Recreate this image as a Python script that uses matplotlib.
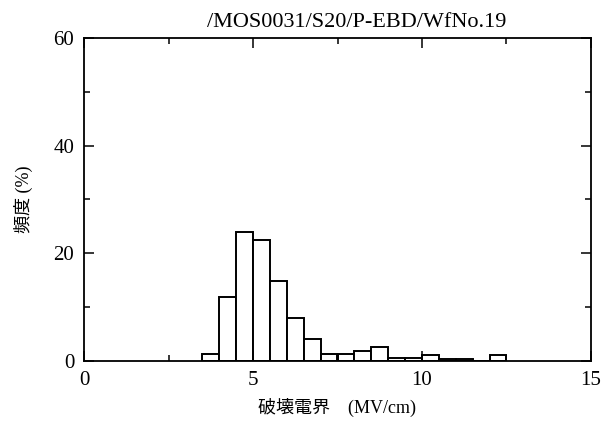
import numpy as np
import matplotlib
matplotlib.use("Agg")
import matplotlib.pyplot as plt
from matplotlib.ticker import MultipleLocator

# histogram bins (left edges, MV/cm) and frequency (%)
bin_left = [3.5, 4.0, 4.5, 5.0, 5.5, 6.0, 6.5, 7.0, 7.5, 8.0, 8.5,
            9.0, 9.5, 10.0, 10.5, 11.0, 11.5, 12.0]
freq = [1.3, 11.9, 24.0, 22.5, 14.8, 8.0, 4.0, 1.35, 1.3, 1.8, 2.6,
        0.6, 0.6, 1.05, 0.3, 0.3, 0.0, 1.2]
bin_width = 0.5

title = "/MOS0031/S20/P-EBD/WfNo.19"
xlabel = "破壊電界\u3000(MV/cm)"
ylabel = "頻度 (%)"
xticks = [0, 5, 10, 15]
yticks = [0, 20, 40, 60]

FONT = ["Liberation Serif", "Noto Sans CJK JP"]
plt.rcParams["font.family"] = FONT

fig = plt.figure(figsize=(6.14, 4.23), dpi=100)
ax = fig.add_axes([84 / 614, 1 - 361 / 423, (591 - 84) / 614, (361 - 38) / 423])

ax.bar(bin_left, freq, width=bin_width, align="edge",
       facecolor="white", edgecolor="black", linewidth=1.4)

ax.set_xlim(0, 15)
ax.set_ylim(0, 60)
ax.set_xticks(xticks)
ax.set_yticks(yticks)
ax.xaxis.set_minor_locator(MultipleLocator(2.5))
ax.yaxis.set_minor_locator(MultipleLocator(10))
ax.tick_params(which="both", direction="in", top=True, right=True,
               width=1.1, labelsize=15)
ax.tick_params(which="major", length=7, pad=7)
ax.tick_params(which="minor", length=4)
for s in ax.spines.values():
    s.set_linewidth(1.3)

ax.set_title(title, fontsize=16, x=(357 - 84) / 507, pad=8)
ax.set_xlabel(xlabel, fontsize=13)
ax.xaxis.set_label_coords(0.5, -0.115)
ax.set_ylabel(ylabel, fontsize=13)
ax.yaxis.set_label_coords(-0.10, 0.5)

fig.savefig("out.png", dpi=100)
plt.close("all")
